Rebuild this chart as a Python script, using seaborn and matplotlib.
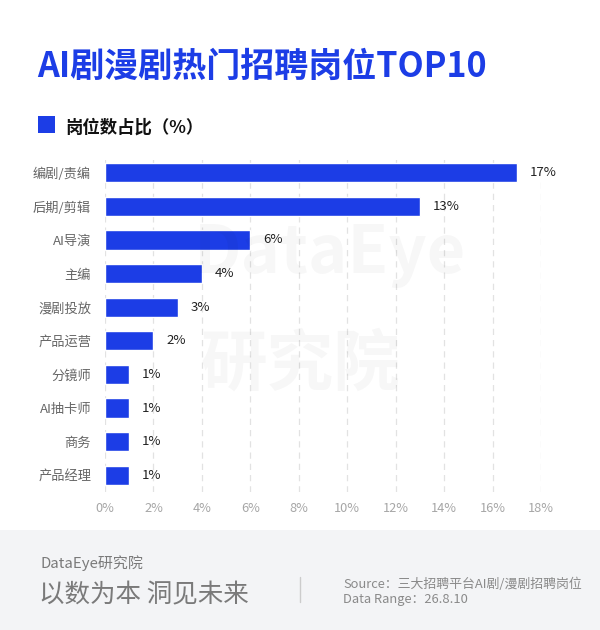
import matplotlib
matplotlib.use("Agg")
import matplotlib.pyplot as plt
import seaborn as sns
import pandas as pd
from matplotlib.patches import Rectangle

categories = ["编剧/责编", "后期/剪辑", "AI导演", "主编", "漫剧投放", "产品运营", "分镜师", "AI抽卡师", "商务", "产品经理"]
values = [17, 13, 6, 4, 3, 2, 1, 1, 1, 1]
xticks = [0, 2, 4, 6, 8, 10, 12, 14, 16, 18]
xtick_labels = [f"{v}%" for v in xticks]
value_labels = [f"{v}%" for v in values]

sns.set_theme(style="white")
plt.rcParams['font.family'] = ['Noto Sans CJK SC', 'DejaVu Sans']

BLUE = "#1C3DE6"
df = pd.DataFrame({"cat": categories, "val": values})

fig = plt.figure(figsize=(6, 6.3), dpi=100)
fig.patch.set_facecolor("white")

# footer band
fig.patches.append(Rectangle((0, 0), 1, 100 / 630, transform=fig.transFigure,
                             facecolor="#F3F4F6", edgecolor="none", zorder=0))

ax = fig.add_axes([105 / 600, 1 - 492 / 630, (541 - 105) / 600, (492 - 156) / 630])
ax.set_facecolor("none")
sns.barplot(data=df, x="val", y="cat", color=BLUE, width=0.57, ax=ax, saturation=1, zorder=3)

ax.set_xlim(0, 18)
ax.set_xticks(xticks)
ax.set_xticklabels(xtick_labels, color="#A6A6A6", fontsize=9.2)
ax.tick_params(axis="x", length=0, pad=7)
ax.tick_params(axis="y", length=0, pad=10, labelsize=9.5, labelcolor="#666666")
ax.set_xlabel("")
ax.set_ylabel("")
for s in ax.spines.values():
    s.set_visible(False)
ax.grid(axis="x", color="#E2E2E2", linestyle=(0, (5, 4)), linewidth=0.9, zorder=0)
ax.grid(axis="y", visible=False)

for i, (v, lab) in enumerate(zip(values, value_labels)):
    ax.annotate(lab, xy=(v, i), xytext=(9.4, 0), textcoords="offset points",
                va="center", ha="left", fontsize=9.5, color="#222222")

# watermark
fig.text(0.55, 1 - 255 / 630, "DataEye", fontsize=48, fontweight="bold",
         color="#000000", alpha=0.03, ha="center", va="center")
fig.text(0.5, 1 - 365 / 630, "研究院", fontsize=48, fontweight="bold",
         color="#000000", alpha=0.03, ha="center", va="center")

# title
fig.text(37 / 600, 1 - 66 / 630, "AI剧漫剧热门招聘岗位TOP10", fontsize=24.5, fontweight="bold",
         color=BLUE, ha="left", va="center")

# legend
fig.patches.append(Rectangle((38 / 600, 1 - 133 / 630), 17 / 600, 17 / 630,
                             transform=fig.transFigure, facecolor=BLUE, edgecolor="none"))
fig.text(65 / 600, 1 - 128 / 630, "岗位数占比（%）", fontsize=12.5, fontweight="bold",
         color="#111111", ha="left", va="center")

# footer texts
fig.text(41 / 600, 1 - 563 / 630, "DataEye研究院", fontsize=10.8, color="#7A7A7A",
         fontweight="light", ha="left", va="center")
fig.text(39 / 600, 1 - 595 / 630, "以数为本 洞见未来", fontsize=18.4, color="#7A7A7A",
         fontweight="light", ha="left", va="center")
fig.lines.append(plt.Line2D([300 / 600, 300 / 600], [1 - 602 / 630, 1 - 577 / 630],
                            transform=fig.transFigure, color="#CCCCCC", linewidth=1))
fig.text(343 / 600, 1 - 584 / 630, "Source：三大招聘平台AI剧/漫剧招聘岗位", fontsize=9.3,
         color="#8A8A8A", ha="left", va="center")
fig.text(343 / 600, 1 - 600 / 630, "Data Range：26.8.10", fontsize=9.3,
         color="#8A8A8A", ha="left", va="center")

fig.savefig("out.png", dpi=100)
